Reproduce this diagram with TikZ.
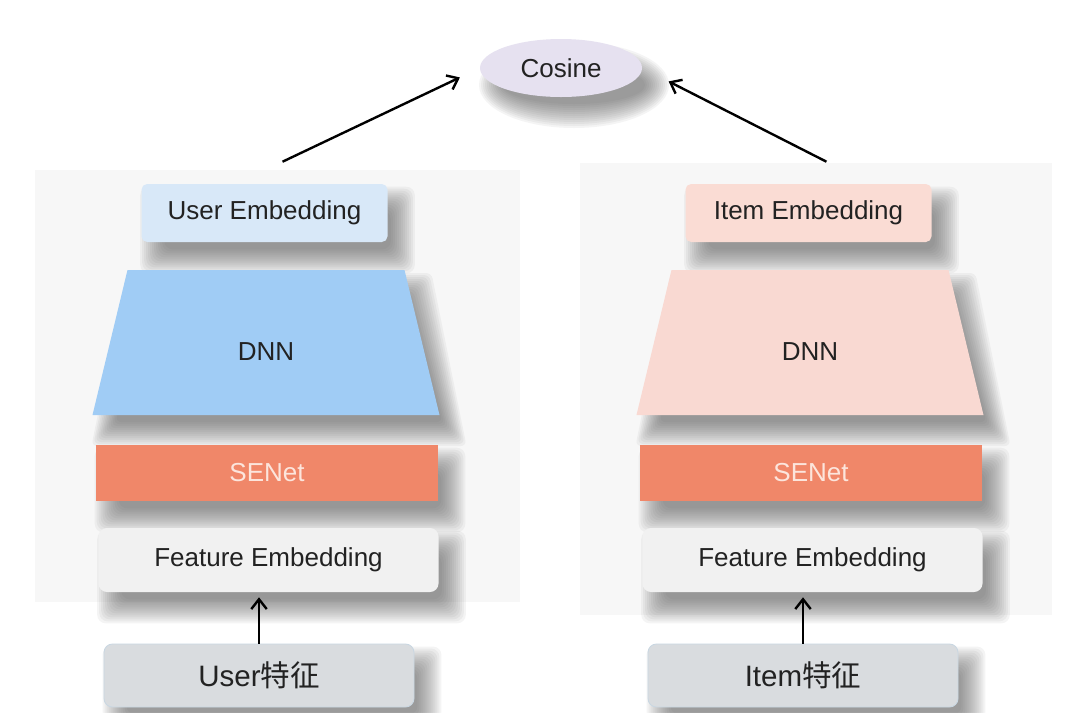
\documentclass[tikz,border=0pt]{standalone}
\usepackage{fontspec}
\setmainfont{Liberation Sans}
\newfontfamily\cjk{Noto Sans CJK SC}
\usetikzlibrary{calc,shapes.geometric,arrows.meta}

\definecolor{panelgray}{HTML}{F7F7F7}
\definecolor{userblue}{HTML}{D8E8F8}
\definecolor{dnnblue}{HTML}{A0CCF5}
\definecolor{itempink}{HTML}{FADCD4}
\definecolor{dnnpink}{HTML}{F9D9D2}
\definecolor{senetred}{HTML}{F08769}
\definecolor{senettext}{HTML}{FCE5DC}
\definecolor{featgray}{HTML}{F1F1F1}
\definecolor{rawgray}{HTML}{D9DCDF}
\definecolor{rawedge}{HTML}{C9D7E2}
\definecolor{cosviolet}{HTML}{E6E1F0}
\definecolor{shadecol}{HTML}{505050}
\definecolor{txt}{HTML}{222222}

\def\unitpx{0.025cm}

\pgfdeclarelayer{panel}
\pgfdeclarelayer{shade}
\pgfsetlayers{panel,shade,main}

\tikzset{
  layer/.style={inner sep=0pt, font=\fontsize{18.5}{22}\selectfont, text=txt},
  shadelayer/.style={shadecol, opacity=0.06},
  barb/.style={-{Straight Barb[length=7pt,width=11pt]}, line width=1.7pt, black},
}

% soft shadow under a named box node
\newcommand\shadebox[1]{%
  \begin{pgfonlayer}{shade}
    \foreach \rr in {14,12,...,-10}
      \fill[shadelayer, rounded corners=6pt] ($(#1.north west)+({13-(\rr)},{17-(\rr)})$) rectangle ($(#1.south east)+({13+(\rr)},{17+(\rr)})$);
  \end{pgfonlayer}}

\begin{document}
\begin{tikzpicture}[x=0.025cm, y=-0.025cm]
\useasboundingbox (0,0) rectangle (1080,712);

% grey panels behind the two towers
\begin{pgfonlayer}{panel}
\fill[white] (0,0) rectangle (1080,712);
\fill[panelgray] (35,170) rectangle (520,602);
\fill[panelgray] (580,163) rectangle (1052,615);
\end{pgfonlayer}

\node[ellipse, layer, fill=cosviolet, minimum width=162*\unitpx, minimum height=58*\unitpx] (cos) at (561,68) {Cosine};
\begin{pgfonlayer}{shade}
\foreach \rr in {14,12,...,-10}
  \fill[shadelayer] (574,85) ellipse [x radius={81+(\rr)}, y radius={29+(\rr)}];
\end{pgfonlayer}

\foreach \s/\cx/\who/\embc/\dnnc/\anc/\shrt in {u/266/User/userblue/dnnblue/west/15.6pt, i/810/Item/itempink/dnnpink/east/21pt} {
    % raw features
    \node[layer, rounded corners=6pt, fill=rawgray, draw=rawedge, line width=0.6pt,
          minimum width=310*\unitpx, minimum height=63*\unitpx, font=\fontsize{21}{24}\selectfont]
          (\s raw) at (\cx-7,675.5) {\who{\cjk 特征}};
    \node[layer, rounded corners=6pt, fill=featgray, minimum width=340*\unitpx, minimum height=64*\unitpx]
          (\s fe) at (\cx+2.5,560) {Feature Embedding};
    \node[layer, fill=senetred, text=senettext, minimum width=342*\unitpx, minimum height=56*\unitpx]
          (\s se) at (\cx+1,473) {SENet};
    \fill[\dnnc] (\cx-173.5,415) -- (\cx+173.5,415) -- (\cx+138.5,270) -- (\cx-138.5,270) -- cycle;
    \node[layer] (\s dnn) at (\cx,352) {DNN};
    \node[layer, rounded corners=4pt, fill=\embc, minimum width=246*\unitpx, minimum height=58*\unitpx]
          (\s emb) at (\cx-1.5,213) {\who\ Embedding};

    \shadebox{\s raw}
    \shadebox{\s fe}
    \shadebox{\s se}
    \shadebox{\s emb}
    \begin{pgfonlayer}{shade}
    \foreach \rr in {14,12,...,-10}
      \fill[shadelayer, rounded corners=4pt] ({\cx-160.5-(\rr)},{432+(\rr)}) -- ({\cx+186.5+(\rr)},{432+(\rr)})
          -- ({\cx+151.5+(\rr)},{287-(\rr)}) -- ({\cx-125.5-(\rr)},{287-(\rr)}) -- cycle;
    \end{pgfonlayer}

    \draw[barb, shorten >=5*\unitpx] (\s raw.north) -- (\s raw.north |- \s fe.south);
    \coordinate (\s top) at ($(\s emb.north)+(18,-22)$);
    \draw[barb, shorten >=\shrt] (\s top) -- (cos.\anc);
}
\end{tikzpicture}
\end{document}
